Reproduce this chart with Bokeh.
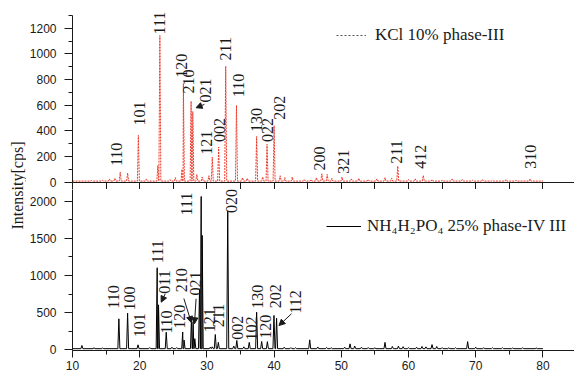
import numpy as np
from bokeh.plotting import figure
from bokeh.layouts import row, column
from bokeh.models import (Label, Legend, LegendItem, Arrow, NormalHead,
                          FixedTicker, Range1d)
from bokeh.core.properties import value
from bokeh.embed import file_html
from bokeh.resources import INLINE

# ---- KCl 10 % (phase III) pattern: 2theta [deg] / intensity [cps] ----
kcl_peak_pos = [17.1, 18.2, 19.8, 22.7, 23.0, 26.3, 26.5, 27.65, 27.9, 30.8,
                31.75, 32.8, 34.4, 37.4, 38.95, 40.0, 40.9, 47.1, 47.9, 50.1,
                58.4, 62.2, 78.1]
kcl_peak_int = [78, 70, 364, 130, 1143, 100, 770, 631, 550, 195,
                273, 904, 598, 356, 294, 440, 50, 65, 60, 40,
                125, 52, 25]
kcl_minor_pos = [12.8, 14.5, 15.5, 16.3, 21.0, 24.5, 25.3, 28.5, 29.3, 30.3,
                 35.3, 36.0, 38.3, 41.6, 42.7, 44.5, 45.5, 46.3, 48.6, 51.5,
                 52.6, 54.0, 55.3, 56.5, 57.5, 60.0, 61.0, 63.5, 65.0, 66.5,
                 68.0, 69.5, 71.0, 72.5, 74.5, 76.0]
kcl_minor_int = [12, 15, 25, 30, 25, 20, 35, 60, 40, 50,
                 35, 30, 40, 35, 40, 20, 20, 35, 30, 25,
                 30, 20, 25, 35, 30, 20, 25, 20, 15, 25,
                 20, 15, 20, 15, 20, 15]
kcl_baseline = 8

kcl_labels = ["110", "101", "111", "120", "210", "021", "121", "002", "211",
              "110", "130", "022", "202", "200", "321", "211", "412", "310"]
kcl_label_x = [16.55, 19.91, 22.97, 26.17, 27.3, 29.8, 29.97, 31.94, 32.83,
               34.66, 37.37, 38.99, 40.81, 46.73, 50.34, 58.22, 61.82, 78.09]
kcl_label_y = [125, 442, 1151, 814, 691, 620, 213, 312, 949,
               662, 390, 312, 486, 91, 65, 143, 104, 104]

# ---- NH4H2PO4 25 % (phase IV -> III) pattern ----
adp_peak_pos = [11.4, 16.9, 18.2, 19.75, 22.6, 22.8, 23.95, 26.4, 26.6, 27.7,
                27.95, 28.2, 28.9, 29.15, 29.3, 30.5, 30.8, 31.25, 31.7, 33.1,
                34.0, 34.45, 36.3, 37.4, 38.15, 39.0, 39.98, 40.37, 45.3, 51.3,
                56.5, 63.5, 68.8]
adp_peak_int = [58, 417, 493, 67, 1104, 605, 237, 240, 130, 420,
                380, 150, 820, 2063, 1540, 35, 40, 206, 100, 1866,
                50, 125, 100, 506, 112, 110, 462, 425, 134, 80,
                100, 70, 110]
adp_minor_pos = [13.2, 14.5, 21.5, 24.8, 25.5, 35.5, 41.5, 42.5, 43.2, 46.5,
                 47.8, 48.5, 50.5, 52.0, 53.0, 54.0, 55.0, 57.6, 58.5, 59.2,
                 60.0, 61.2, 62.0, 62.6, 64.2, 65.0, 66.0, 67.0, 70.0, 71.2,
                 72.5, 74.0, 75.5, 77.0, 79.0]
adp_minor_int = [28, 25, 30, 35, 30, 40, 35, 30, 28, 38,
                 32, 28, 35, 50, 35, 30, 28, 45, 50, 42,
                 30, 35, 45, 40, 45, 30, 28, 28, 35, 28,
                 28, 28, 25, 28, 25]
adp_baseline = 15

adp_labels = ["110", "100", "101", "111", "011", "110", "120", "210", "021",
              "111", "121", "211", "020", "002", "102", "130", "120", "202",
              "112"]
adp_label_x = [16.07, 18.54, 20.01, 22.72, 23.71, 24.0, 25.93, 26.17, 28.3,
               26.9, 30.4, 31.7, 33.67, 34.5, 36.6, 37.56, 38.67, 40.15, 43.18]
adp_label_y = [552, 529, 170, 1166, 754, 215, 282, 775, 731,
               1808, 237, 305, 1840, 134, 125, 552, 148, 560, 485]

# leader arrows: (x_start, y_start, x_end, y_end) in data units
kcl_arrows = [(29.63, 606, 28.39, 580)]
adp_arrows = [(23.80, 754, 23.20, 641),
              (26.57, 690, 27.68, 367),
              (28.39, 686, 28.15, 350),
              (42.59, 485, 40.72, 327)]

x_ticks = [10, 20, 30, 40, 50, 60, 70, 80]
x_minor = [15, 25, 35, 45, 55, 65, 75]


def profile(pos, inten, base, x0=10.0, x1=80.0, hw=0.15):
    """Build a stick-like diffraction trace from a list of peaks."""
    pts = [(x0, base), (x1, base)]
    for x, h in zip(pos, inten):
        pts += [(x - hw, base), (x, h), (x + hw, base)]
    pts.sort(key=lambda t: t[0])
    return [p[0] for p in pts], [p[1] for p in pts]


SERIF = value("Liberation Serif")
SANS = "Liberation Sans"
INK = "#1a1a1a"
RED = "#ec3a2a"

x_range = Range1d(10, 84.7)


def style_y(ax, major, minor, bounds=None):
    ax.ticker = FixedTicker(ticks=major, minor_ticks=minor)
    ax.major_tick_out = 8
    ax.major_tick_in = 0
    ax.minor_tick_out = 4
    ax.minor_tick_in = 0
    ax.major_label_standoff = 8
    ax.major_label_text_font = SANS
    ax.major_label_text_font_size = "12px"
    ax.major_label_text_color = INK
    ax.axis_line_color = INK
    ax.major_tick_line_color = INK
    ax.minor_tick_line_color = INK
    if bounds is not None:
        ax.bounds = bounds


# ------------------------------------------------------------------ top panel
top = figure(width=548, height=189, x_range=x_range, y_range=Range1d(-3, 1354),
             output_backend="svg", toolbar_location=None,
             min_border_left=43, min_border_right=0, min_border_top=8,
             min_border_bottom=7)
top.grid.visible = False
top.outline_line_color = None
# left axis line runs on down to meet the lower panel
style_y(top.yaxis[0], list(range(0, 1201, 200)), list(range(100, 1301, 200)),
        bounds=(-56, 1300))

# shared border between the two panels: unlabeled ticks pointing down
mid = top.xaxis[0]
mid.ticker = FixedTicker(ticks=[], minor_ticks=sorted(x_ticks + x_minor))
mid.minor_tick_out = 7
mid.minor_tick_in = 0
mid.major_tick_out = 0
mid.major_label_standoff = 0
mid.axis_line_color = INK
mid.minor_tick_line_color = INK

kx, ky = profile(kcl_peak_pos + kcl_minor_pos, kcl_peak_int + kcl_minor_int,
                 kcl_baseline)
top.line(kx, ky, line_color=RED, line_width=1, line_dash="2 1")
top.text(x=kcl_label_x, y=kcl_label_y, text=kcl_labels, angle=np.pi / 2,
         text_align="left", text_baseline="middle", text_font=SERIF,
         text_font_size="16px", text_color=INK)
for xs, ys, xe, ye in kcl_arrows:
    top.add_layout(Arrow(x_start=xs, y_start=ys, x_end=xe, y_end=ye,
                         line_color=INK, line_width=1,
                         end=NormalHead(size=6, fill_color=INK, line_color=INK)))

# legend key drawn as a plain dotted line
kcl_key = top.line([np.nan], [np.nan], line_color="#555555", line_width=1,
                   line_dash="2 2")
top_legend = Legend(items=[LegendItem(label="KCl 10% phase-III",
                                      renderers=[kcl_key])],
                    location=(264, 137), padding=0, margin=0, spacing=0,
                    glyph_width=30, glyph_height=20, label_standoff=9,
                    label_text_font="Liberation Serif",
                    label_text_font_size="17px", label_text_color=INK,
                    background_fill_alpha=0, border_line_alpha=0)
top.add_layout(top_legend)

# --------------------------------------------------------------- bottom panel
bot = figure(width=548, height=203, x_range=x_range, y_range=Range1d(-9.4, 2157),
             output_backend="svg", toolbar_location=None,
             min_border_left=43, min_border_right=0, min_border_top=0,
             min_border_bottom=42)
bot.grid.visible = False
bot.outline_line_color = None
style_y(bot.yaxis[0], [0, 500, 1000, 1500, 2000], [250, 750, 1250, 1750])

xa = bot.xaxis[0]
xa.ticker = FixedTicker(ticks=x_ticks, minor_ticks=x_minor)
xa.major_tick_out = 7
xa.major_tick_in = 0
xa.minor_tick_out = 4
xa.minor_tick_in = 0
xa.major_label_standoff = 3
xa.major_label_text_font = SANS
xa.major_label_text_font_size = "12px"
xa.major_label_text_color = INK
xa.axis_line_color = INK
xa.major_tick_line_color = INK
xa.minor_tick_line_color = INK

ax_, ay_ = profile(adp_peak_pos + adp_minor_pos, adp_peak_int + adp_minor_int,
                   adp_baseline)
adp_line = bot.line(ax_, ay_, line_color="#000000", line_width=1)
bot.text(x=adp_label_x, y=adp_label_y, text=adp_labels, angle=np.pi / 2,
         text_align="left", text_baseline="middle", text_font=SERIF,
         text_font_size="16px", text_color=INK)
for xs, ys, xe, ye in adp_arrows:
    bot.add_layout(Arrow(x_start=xs, y_start=ys, x_end=xe, y_end=ye,
                         line_color=INK, line_width=1,
                         end=NormalHead(size=6, fill_color=INK, line_color=INK)))

bot_legend = Legend(items=[LegendItem(label="NH\u2084H\u2082PO\u2084 25% phase-IV III",
                                      renderers=[adp_line])],
                    location=(254, 114), padding=0, margin=0, spacing=0,
                    glyph_width=35, glyph_height=20, label_standoff=6,
                    label_text_font="Liberation Serif",
                    label_text_font_size="17px", label_text_color=INK,
                    background_fill_alpha=0, border_line_alpha=0)
bot.add_layout(bot_legend)

bot.add_layout(Label(x=43.7, y=-467, text="Position 2\u03b8 [ \u00b0 ]",
                     text_align="center", text_baseline="middle",
                     text_font="Liberation Serif", text_font_size="16px",
                     text_color=INK))

# ---------------------------------------------------- shared intensity label
side = figure(width=26, height=392, x_range=Range1d(0, 1), y_range=Range1d(0, 1),
              x_axis_type=None, y_axis_type=None, output_backend="svg",
              toolbar_location=None, min_border=0)
side.grid.visible = False
side.outline_line_color = None
side.add_layout(Label(x=0.635, y=0.528, text="Intensity[cps]", angle=np.pi / 2,
                      text_align="center", text_baseline="middle",
                      text_font="Liberation Serif", text_font_size="16px",
                      text_color=INK))

layout = row(side, column(top, bot, spacing=0), spacing=0)

with open("out.html", "w") as f:
    f.write(file_html(layout, INLINE))
